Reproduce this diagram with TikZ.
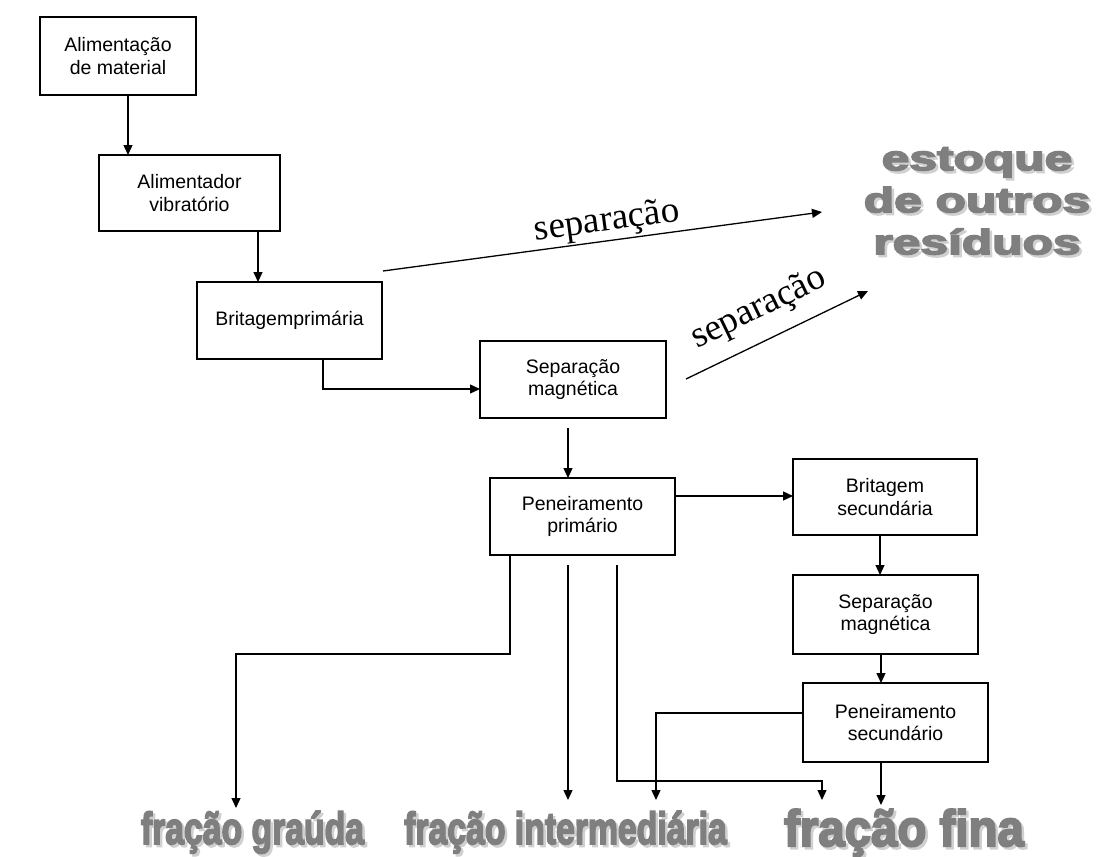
\documentclass[tikz,border=0pt]{standalone}
\usepackage{fontspec}
\setmainfont{Liberation Sans}
\newfontfamily\serifz{Liberation Serif}
\newfontfamily\heavy{Liberation Sans}[BoldFeatures={FakeBold=4}]
\usetikzlibrary{arrows.meta}
\definecolor{bigg}{HTML}{7F7F7F}
\definecolor{bigsh}{HTML}{D0D0D0}
\begin{document}
\begin{tikzpicture}[x=0.5pt,y=-0.5pt,
 box/.style={draw,line width=0.75pt,inner sep=0pt,outer sep=0pt,align=center,font=\fontsize{9.75}{11.35}\selectfont},
 arr/.style={line width=0.65pt,-{Triangle[length=5pt,width=4.5pt]}},
 sep/.style={font=\serifz\fontsize{18.5}{20}\selectfont,inner sep=0pt},
 big/.style={text=bigg,font=\heavy\bfseries\fontsize{22.5}{24}\selectfont,xscale=0.75,anchor=base,inner sep=0pt},
 bigs/.style={big,text=bigsh},
 fin/.style={text=bigg,font=\heavy\bfseries\fontsize{25.5}{27}\selectfont,xscale=0.93,anchor=base,inner sep=0pt},
 fins/.style={fin,text=bigsh},
 est/.style={text=bigg,font=\heavy\bfseries\fontsize{17.5}{21}\selectfont,xscale=1.42,align=center,inner sep=0pt},
 ests/.style={est,text=bigsh}]
\useasboundingbox (0,0) rectangle (1099,857);
\fill[white] (0,0) rectangle (1099,857);

% boxes
\node[box,minimum width=78pt,minimum height=39pt] (b1) at (118,56) {Alimentação\\de material};
\node[box,minimum width=90.5pt,minimum height=38pt] (b2) at (189.5,193) {Alimentador\\vibratório};
\node[box,minimum width=92.5pt,minimum height=38.5pt] (b3) at (289.5,320.5) {Britagemprimária};
\node[box,minimum width=93pt,minimum height=38.5pt] (b4) at (573,379.5) {Separação\\magnética};
\node[box,minimum width=92.5pt,minimum height=38.5pt] (b5) at (582.5,516.5) {Peneiramento\\primário};
\node[box,minimum width=92pt,minimum height=38pt] (b6) at (885,497) {Britagem\\secundária};
\node[box,minimum width=92.5pt,minimum height=39.5pt] (b7) at (885.5,614.5) {Separação\\magnética};
\node[box,minimum width=92.5pt,minimum height=39.5pt] (b8) at (895.5,722.5) {Peneiramento\\secundário};

% big gray labels
\node[ests] (sts) at (979.5,203.5) {estoque\\de outros\\resíduos};
\node[est] (st) at (977,201) {estoque\\de outros\\resíduos};
\node[bigs] (gs) at (255,846.5) {fração graúda};
\node[big] (g) at (252.5,844) {fração graúda};
\node[bigs] (ims) at (568,846.5) {fração intermediária};
\node[big] (im) at (565.5,844) {fração intermediária};
\node[fins] (fns) at (906.5,848.5) {fração fina};
\node[fin] (fn) at (904,846) {fração fina};

% separação arrows
\coordinate (s1) at (383,271);
\coordinate (s1e) at (822,212);
\draw[arr] (s1) -- (s1e);
\node[sep,rotate=7.65] (l1) at (607,222) {separação};
\coordinate (s2) at (686,379);
\coordinate (s2e) at (868,291);
\draw[arr] (s2) -- (s2e);
\node[sep,rotate=25.8] (l2) at (759,309) {separação};

% main chain
\coordinate (a1) at ([xshift=5pt]b1.south);
\draw[arr] (a1) -- (a1 |- b2.north);
\coordinate (a2) at ([xshift=34.25pt]b2.south);
\draw[arr] (a2) -- (a2 |- b3.north);
\coordinate (a3) at ([xshift=16.75pt]b3.south);
\coordinate (a3e) at ([yshift=-4.75pt]b4.west);
\draw[arr] (a3) |- (a3e);
\coordinate (a4) at ([xshift=-2.5pt,yshift=-5pt]b4.south);
\draw[arr] (a4) -- (a4 |- b5.north);
\coordinate (a5) at ([yshift=10.25pt]b5.east);
\draw[arr] (a5) -- (a5 -| b6.west);
\coordinate (a6) at ([xshift=-2.5pt]b6.south);
\draw[arr] (a6) -- (a6 |- b7.north);
\coordinate (a7) at ([xshift=-2.25pt]b7.south);
\draw[arr] (a7) -- (a7 |- b8.north);

% outputs
\coordinate (a8) at ([xshift=-7.25pt]b8.south);
\coordinate (f3) at (881,805);
\draw[arr] (a8) -- (f3);
\coordinate (a9) at ([yshift=4.75pt]b8.west);
\coordinate (f2) at (656,800);
\draw[arr] (a9) -| (f2);
\coordinate (p1) at ([xshift=-36.25pt]b5.south);
\coordinate (g1) at (236,808);
\draw[arr] (p1) -- ++(0,99) -| (g1);
\coordinate (p2) at ([xshift=-7.25pt,yshift=-5pt]b5.south);
\coordinate (i1) at (568,800);
\draw[arr] (p2) -- (i1);
\coordinate (p3) at ([xshift=17.25pt,yshift=-5pt]b5.south);
\coordinate (i3) at (822,800);
\draw[arr] (p3) -- ++(0,216) -| (i3);
\end{tikzpicture}
\end{document}
